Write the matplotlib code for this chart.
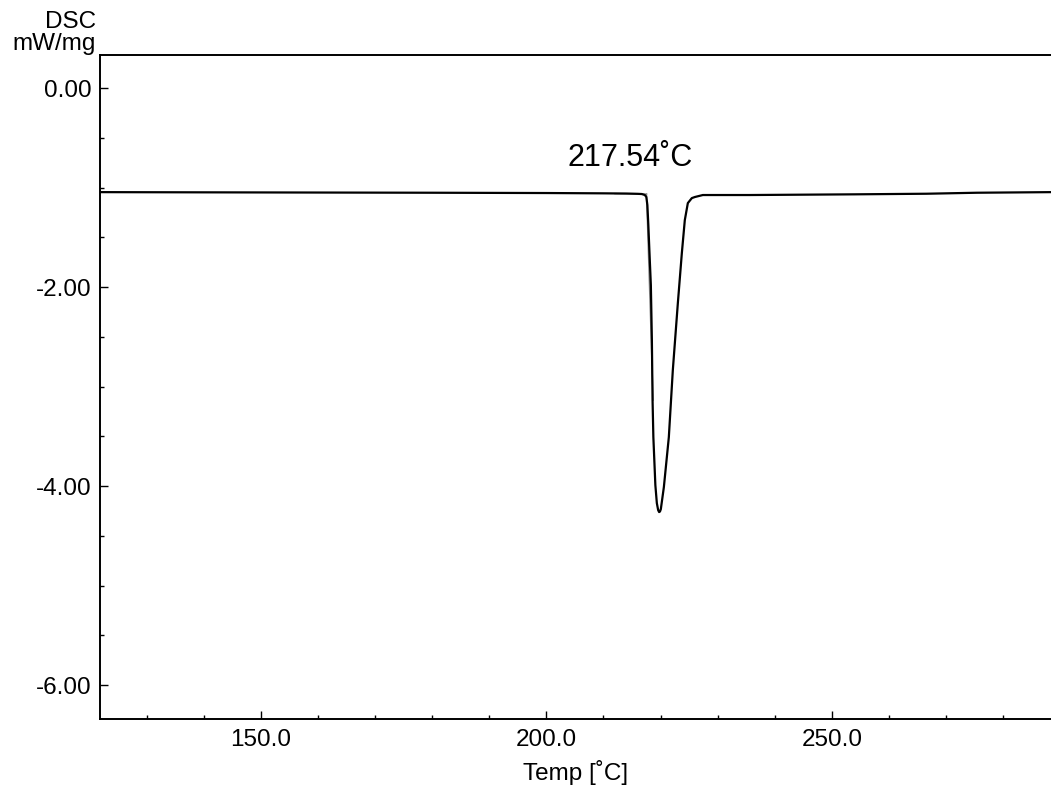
import matplotlib
matplotlib.use("Agg")
import matplotlib.pyplot as plt
from matplotlib.ticker import MultipleLocator, FormatStrFormatter

plt.rcParams['font.family'] = ['Liberation Sans', 'DejaVu Sans']

# DSC curve (Temp in °C, DSC in mW/mg)
temp = [121.8, 140.0, 160.0, 180.0, 200.0, 210.0, 214.0, 216.0, 216.72, 217.25, 217.51,
        217.69, 217.86, 218.04, 218.30, 218.48, 218.60, 218.74, 219.09, 219.35, 219.58,
        219.75, 219.90, 220.05, 220.58, 221.45, 222.15, 223.03, 223.73, 224.25, 224.78,
        225.48, 226.01, 227.41, 235.6, 254.0, 266.6, 275.4, 288.4]
dsc = [-1.046, -1.048, -1.050, -1.052, -1.055, -1.058, -1.060, -1.063, -1.065, -1.075, -1.095,
       -1.176, -1.377, -1.628, -1.980, -2.533, -3.136, -3.508, -3.990, -4.171, -4.241,
       -4.261, -4.255, -4.231, -4.010, -3.508, -2.834, -2.161, -1.658, -1.327, -1.156,
       -1.106, -1.095, -1.075, -1.075, -1.068, -1.062, -1.052, -1.046]

# Onset construction lines
onset_temp = 217.54
baseline_ext_temp = [212.0, 217.54]
baseline_ext_dsc = [-1.061, -1.065]
tangent_temp = [217.54, 218.70]
tangent_dsc = [-1.065, -3.136]
onset_label = "217.54˚C"

x_major = 50
x_minor = 10
y_major = 2.0
y_minor = 0.5

fig = plt.figure(figsize=(10.51, 7.87), dpi=100)
ax = fig.add_axes([100/1051, 68/787, 951/1051, 664/787])

ax.plot(baseline_ext_temp, baseline_ext_dsc, color='#8a8a8a', lw=1.0, zorder=2)
ax.plot(tangent_temp, tangent_dsc, color='#8a8a8a', lw=1.0, zorder=2)
ax.plot(temp, dsc, color='black', lw=1.6, zorder=3)

ax.text(214.6, -0.70, onset_label, ha='center', va='center', fontsize=22)

ax.set_xlim(121.8, 288.4)
ax.set_ylim(-6.34, 0.332)

ax.xaxis.set_major_locator(MultipleLocator(x_major))
ax.xaxis.set_minor_locator(MultipleLocator(x_minor))
ax.yaxis.set_major_locator(MultipleLocator(y_major))
ax.yaxis.set_minor_locator(MultipleLocator(y_minor))
ax.xaxis.set_major_formatter(FormatStrFormatter('%.1f'))
ax.yaxis.set_major_formatter(FormatStrFormatter('%.2f'))

ax.tick_params(which='both', direction='in', width=1.0, labelsize=17.5)
ax.tick_params(which='major', length=6)
ax.tick_params(which='minor', length=3)
ax.tick_params(axis='x', which='major', pad=7)
ax.tick_params(axis='y', which='major', pad=6)

for s in ['left', 'bottom', 'top']:
    ax.spines[s].set_linewidth(1.4)
ax.spines['right'].set_visible(False)

ax.set_xlabel('Temp [˚C]', fontsize=17.5, labelpad=7)

fig.text(96/1051, 1 - 33/787, 'DSC\nmW/mg', ha='right', va='center',
         multialignment='right', fontsize=17.5, linespacing=1.0)

fig.savefig('out.png', dpi=100)
